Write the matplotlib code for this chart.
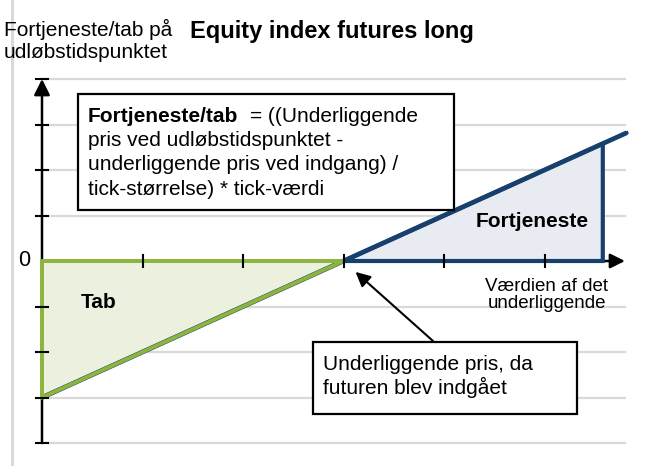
import matplotlib
matplotlib.use("Agg")
import matplotlib.pyplot as plt
from matplotlib.patches import Polygon, Rectangle

plt.rcParams["font.family"] = ["Liberation Sans", "DejaVu Sans"]

# ── data ─────────────────────────────────────────────────────────────────────
payoff_x = [0, 3, 5.58, 5.82]          # underlying value (tick units)
payoff_y = [-3, 0, 2.58, 2.82]         # profit/loss at expiry
loss_x = [0, 0, 3]
loss_y = [0, -3, 0]
profit_x = [3, 5.58, 5.58]
profit_y = [0, 0, 2.58]
entry_point = (3, 0)
x_ticks = [1, 2, 3, 4, 5]
y_ticks = [-4, -3, -2, -1, 1, 2, 3, 4]
grid_levels = [-4, -3, -2, -1, 1, 2, 3, 4]

title = "Equity index futures long"
y_label = ["Fortjeneste/tab på", "udløbstidspunktet"]
x_label = "Værdien af det\nunderliggende"
formula_bold = "Fortjeneste/tab"
formula_first = "= ((Underliggende"
formula_rest = ["pris ved udløbstidspunktet -",
                "underliggende pris ved indgang) /",
                "tick-størrelse) * tick-værdi"]
entry_note = ["Underliggende pris, da", "futuren blev indgået"]

# ── style ────────────────────────────────────────────────────────────────────
GREEN = "#8DB43C"
GREEN_FILL = "#EBF1DE"
NAVY = "#17406D"
NAVY_FILL = "#E8EBF2"
GRID = "#D9D9D9"

W, H = 649, 466
fig = plt.figure(figsize=(W / 100, H / 100), dpi=100)
ax = fig.add_axes([0, 0, 1, 1])
ax.set_xlim(-42 / 100.5, (W - 42) / 100.5)
ax.set_ylim((261 - H) / 45.5, 261 / 45.5)
ax.axis("off")


def fx(px):
    return px / W


def fy(py):
    return 1 - py / H


# left frame line
fig.add_artist(plt.Line2D([fx(12), fx(12)], [0, 1], color=GRID, lw=2.2))

# gridlines
for g in grid_levels:
    ax.plot([0, 5.8], [g, g], color=GRID, lw=1.6, zorder=1)

# loss / profit areas
ax.add_patch(Polygon(list(zip(loss_x, loss_y)), closed=True,
                     facecolor=GREEN_FILL, edgecolor="none", zorder=2))
ax.add_patch(Polygon(list(zip(profit_x, profit_y)), closed=True,
                     facecolor=NAVY_FILL, edgecolor="none", zorder=2))

# axes with arrows
ax.annotate("", xy=(0, 4), xytext=(0, -4),
            arrowprops=dict(arrowstyle="-|>", color="black", lw=1.8,
                            mutation_scale=24, shrinkA=0, shrinkB=0), zorder=2.5)
ax.annotate("", xy=(5.8, 0), xytext=(0, 0),
            arrowprops=dict(arrowstyle="-|>", color="black", lw=1.8,
                            mutation_scale=22, shrinkA=0, shrinkB=0), zorder=2.5)

# payoff line
ax.plot(payoff_x, payoff_y, color=NAVY, lw=3.4, zorder=3, solid_capstyle="butt")
ax.plot(payoff_x[2:], payoff_y[2:], color=NAVY, lw=2.2, zorder=3.1)

# triangle outlines
ax.add_patch(Polygon(list(zip(loss_x, loss_y)), closed=True, fill=False,
                     edgecolor=GREEN, lw=2.8, joinstyle="miter", zorder=4))
ax.add_patch(Polygon(list(zip(profit_x, profit_y)), closed=True, fill=False,
                     edgecolor=NAVY, lw=3, joinstyle="miter", zorder=4))

# ticks
for t in y_ticks:
    ax.plot([-0.06, 0.06], [t, t], color="black", lw=1.5, zorder=5)
for t in x_ticks:
    ax.plot([t, t], [-0.14, 0.14], color="black", lw=1.5, zorder=5)

ax.text(-0.12, 0, "0", fontsize=15.5, ha="right", va="center")

# labels in chart
ax.text(0.39, -0.92, "Tab", fontsize=15, fontweight="bold", ha="left", va="center", zorder=6)
ax.text(4.88, 0.86, "Fortjeneste", fontsize=15, fontweight="bold", ha="center", va="center", zorder=6)
ax.text(5.02, -0.75, x_label, fontsize=13.5, ha="center", va="center", linespacing=1.05)

# title and y label
fig.text(fx(190), fy(38), title, fontsize=17, fontweight="bold", ha="left", va="baseline")
for i, line in enumerate(y_label):
    fig.text(fx(4), fy(36.5 + 21 * i), line, fontsize=15, ha="left", va="baseline")

# formula box
fig.add_artist(Rectangle((fx(78), fy(210)), fx(454) - fx(78), fy(94) - fy(210),
                         transform=fig.transFigure, facecolor="white",
                         edgecolor="black", lw=1.6, zorder=7))
bold_txt = fig.text(fx(88), fy(121.5), formula_bold, fontsize=15, fontweight="bold",
                    ha="left", va="baseline", zorder=8)
renderer = fig.canvas.get_renderer()
bb = bold_txt.get_window_extent(renderer)
fig.text(fx(bb.x1 + 12), fy(121.5), formula_first, fontsize=15,
         ha="left", va="baseline", zorder=8)
for i, line in enumerate(formula_rest):
    fig.text(fx(88), fy(146 + 24.4 * i), line, fontsize=15,
             ha="left", va="baseline", zorder=8)

# entry note box with arrow
fig.add_artist(Rectangle((fx(313), fy(414)), fx(577) - fx(313), fy(342) - fy(414),
                         transform=fig.transFigure, facecolor="white",
                         edgecolor="black", lw=1.6, zorder=7))
for i, line in enumerate(entry_note):
    fig.text(fx(323), fy(370 + 24 * i), line, fontsize=15,
             ha="left", va="baseline", zorder=8)
ax.annotate("", xy=(entry_point[0] + 0.12, entry_point[1] - 0.24),
            xytext=((433 - 42) / 100.5, (261 - 341) / 45.5),
            arrowprops=dict(arrowstyle="-|>", color="black", lw=1.5,
                            mutation_scale=22, shrinkA=0, shrinkB=0), zorder=6)

fig.savefig("out.png", dpi=100)
